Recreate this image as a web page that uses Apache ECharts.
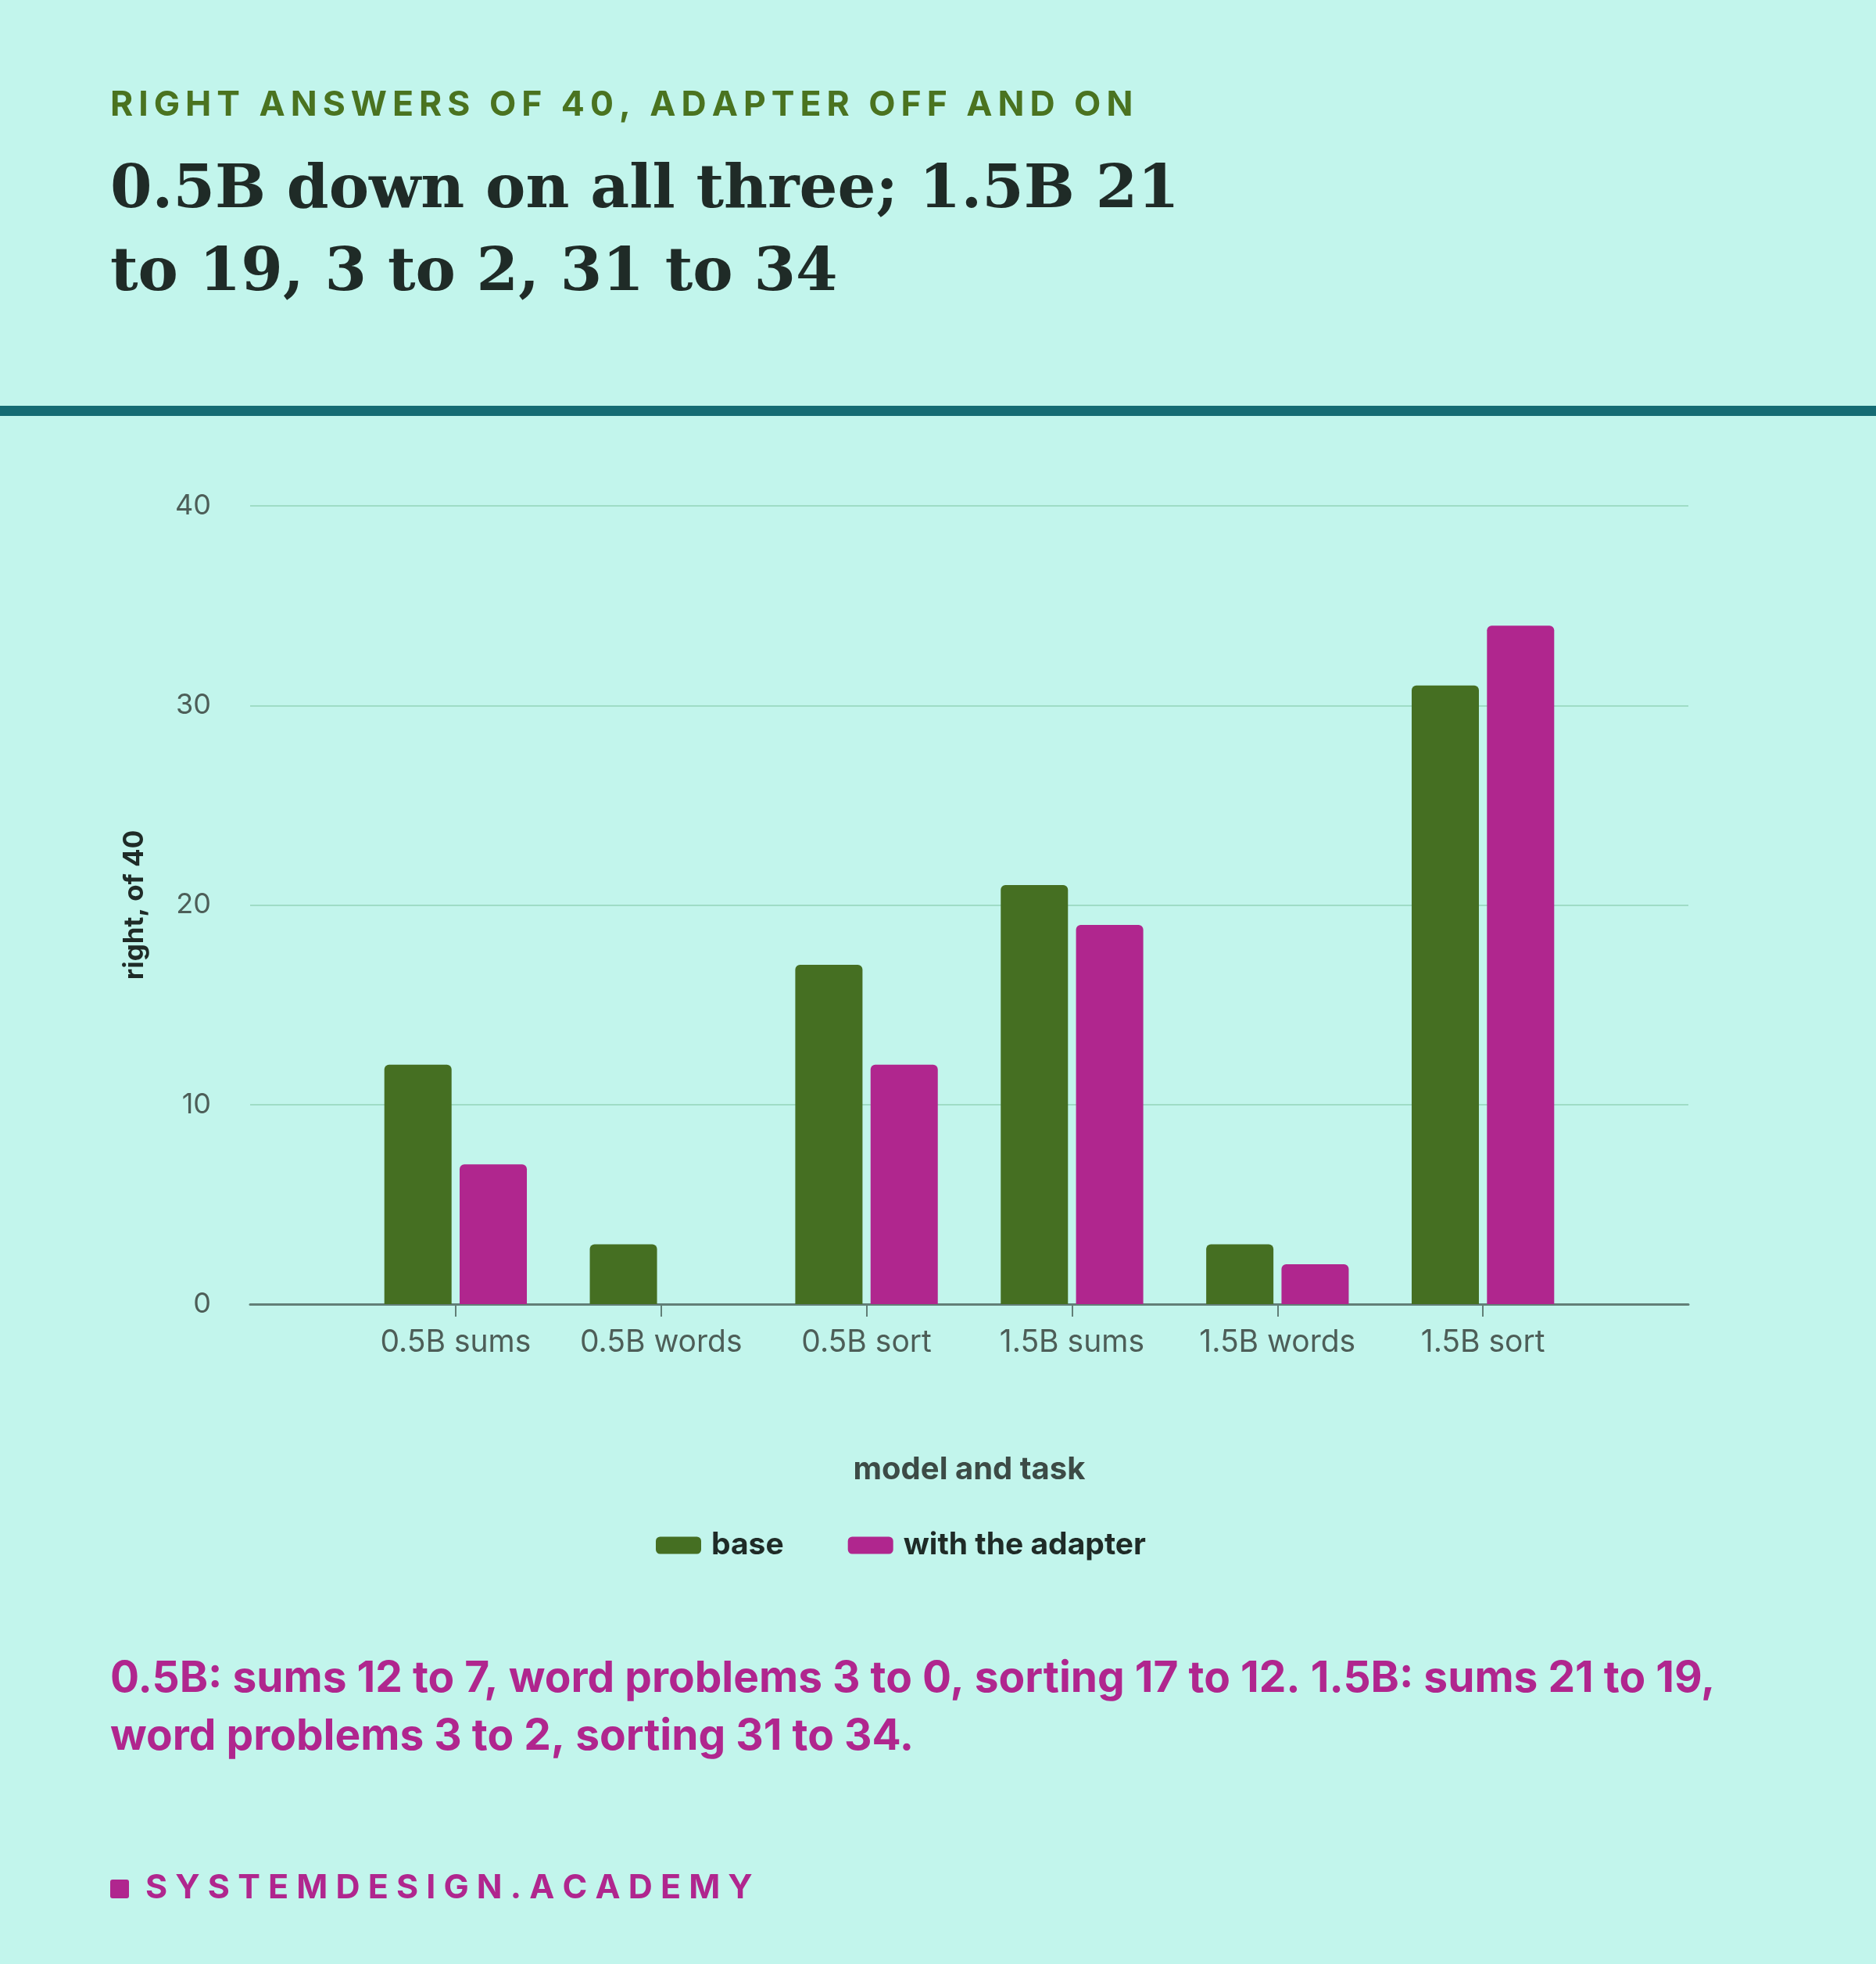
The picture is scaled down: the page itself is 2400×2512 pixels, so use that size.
<!DOCTYPE html>
<html><head><meta charset="utf-8">
<script src="https://cdn.jsdelivr.net/npm/echarts@6/dist/echarts.min.js"></script>
<style>html,body{margin:0;padding:0;background:#c2f5ec}#c{width:2400px;height:2512px}</style>
</head><body><div id="c"></div>
<script>
const categories = ['0.5B sums','0.5B words','0.5B sort','1.5B sums','1.5B words','1.5B sort'];
const baseValues = [12,3,17,21,3,31];
const adapterValues = [7,0,12,19,2,34];
const yTicks = [0,10,20,30,40];

const spaced = (s, sep) => s.split('').join(sep);
const cats = [''].concat(categories, ['']);
const pad = a => [null].concat(a, [null]);
const chart = echarts.init(document.getElementById('c'));
const green = '#456f22', mag = '#b0268e';
chart.setOption({
  backgroundColor: '#c2f5ec',
  textStyle: {fontFamily: 'Inter'},
  grid: {left: 320, right: 240, top: 647, bottom: 2512-1668, containLabel: false},
  legend: {
    top: 1952, left: 834, itemWidth: 58, itemHeight: 22, itemGap: 82,
    icon: 'roundRect',
    textStyle: {fontSize: 39, fontWeight: 'bold', color: '#1f2b27', fontFamily: 'Inter', padding: [0,0,0,8]},
    data: ['base','with the adapter']
  },
  xAxis: {
    type: 'category', data: cats, boundaryGap: false,
    name: 'model and task', nameLocation: 'middle', nameGap: 192,
    nameTextStyle: {fontSize: 40, fontWeight: 'bold', color: '#3c4b46'},
    axisLine: {lineStyle: {color: '#627f77', width: 3}},
    axisTick: {length: 16, lineStyle: {color: '#627f77', width: 2}, interval: (i, v) => v !== ''},
    axisLabel: {fontSize: 39, color: '#4d5e58', margin: 30, interval: 0},
    splitLine: {show: false}
  },
  yAxis: {
    type: 'value', min: 0, max: 40, interval: 10,
    name: 'right, of 40', nameLocation: 'middle', nameGap: 130,
    nameTextStyle: {fontSize: 35, fontWeight: 'bold', color: '#1f2b27'},
    axisLabel: {fontSize: 36, color: '#4d5e58', margin: 50,
      formatter: v => yTicks.includes(v) ? String(v) : ''},
    axisLine: {show: false}, axisTick: {show: false},
    splitLine: {lineStyle: {color: '#9fdcc6', width: 2}}
  },
  series: [
    {name: 'base', type: 'bar', data: pad(baseValues), barWidth: 86, barGap: '12%',
     itemStyle: {color: green, borderRadius: [6,6,0,0]}},
    {name: 'with the adapter', type: 'bar', data: pad(adapterValues), barWidth: 86,
     itemStyle: {color: mag, borderRadius: [6,6,0,0]}}
  ],
  graphic: [
    {type: 'text', left: 141, top: 112, style: {text: spaced('RIGHT ANSWERS OF 40, ADAPTER OFF AND ON', '\u200A\u200A'), fontSize: 44.5, fontWeight: 'bold', fill: '#4a7320', fontFamily: 'Inter'}},
    {type: 'text', left: 141, top: 192, style: {text: '0.5B down on all three; 1.5B 21\nto 19, 3 to 2, 31 to 34', fontSize: 77, lineHeight: 106, fontWeight: 'bold', fill: '#1f2b27', fontFamily: 'DejaVu Serif'}},
    {type: 'rect', shape: {x: 0, y: 519, width: 2400, height: 13}, style: {fill: '#156b73'}},
    {type: 'text', left: 141, top: 2110, style: {text: '0.5B: sums 12 to 7, word problems 3 to 0, sorting 17 to 12. 1.5B: sums 21 to 19,\nword problems 3 to 2, sorting 31 to 34.', fontSize: 55, lineHeight: 74, fontWeight: 'bold', fill: mag, fontFamily: 'Inter'}},
    {type: 'rect', shape: {x: 141, y: 2404, width: 24, height: 24, r: 3}, style: {fill: mag}},
    {type: 'text', left: 186, top: 2394, style: {text: spaced('SYSTEMDESIGN.ACADEMY', '\u2009\u200A'), fontSize: 43, fontWeight: 'bold', fill: mag, fontFamily: 'Inter'}}
  ]
});
</script></body></html>
